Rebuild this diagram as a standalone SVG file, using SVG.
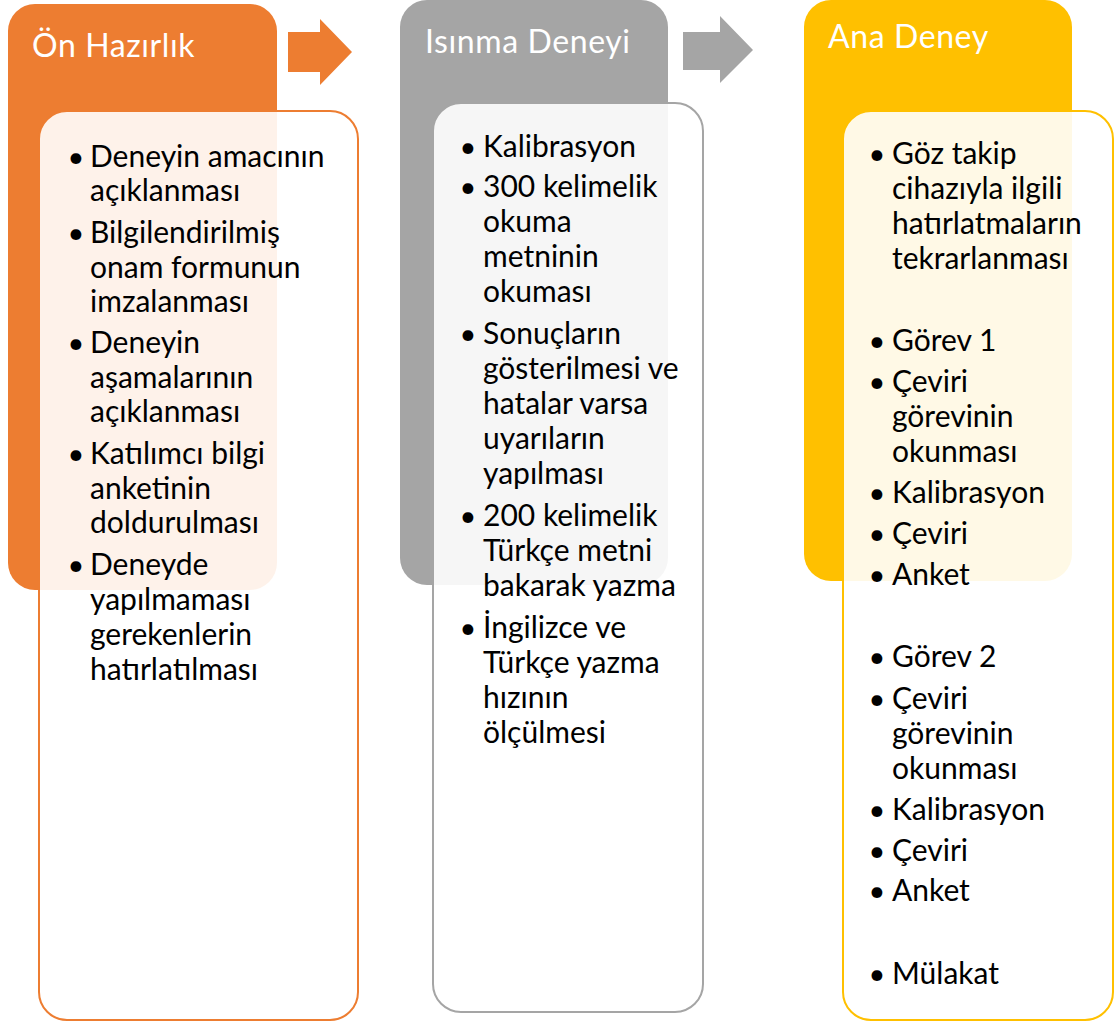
<svg xmlns="http://www.w3.org/2000/svg" width="1115" height="1022" viewBox="0 0 1115 1022">
<style>
.h{font-family:Lato,"Open Sans","Liberation Sans",sans-serif;font-size:32px;letter-spacing:0.6px;fill:#fff}
.t{font-family:Lato,"Open Sans","Liberation Sans",sans-serif;font-size:30px;fill:#000}
.b{font-family:Lato,"Open Sans","Liberation Sans",sans-serif;font-size:29px;fill:#000;text-anchor:middle}
.in{fill:#fff;fill-opacity:.9;stroke-width:2}
</style>
<g id="connectors">
<polygon points="288,32 320,32 320,19 352,52 320,85 320,72 288,72" fill="#ED7D31"/>
<polygon points="683,32 720,32 720,16 753,50 720,83 720,70 683,70" fill="#A5A5A5"/>
</g>
<g id="on-hazirlik">
<rect x="8" y="4" width="269" height="586" rx="27" fill="#ED7D31"/>
<text class="h" x="32" y="57">Ön Hazırlık</text>
<rect class="in" x="39" y="111" width="319" height="909" rx="28" stroke="#ED7D31"/>
<text class="b" x="76" y="167">•</text>
<text class="t" x="90" y="167">Deneyin amacının</text>
<text class="t" x="90" y="201">açıklanması</text>
<text class="b" x="76" y="243">•</text>
<text class="t" x="90" y="243">Bilgilendirilmiş</text>
<text class="t" x="90" y="278">onam formunun</text>
<text class="t" x="90" y="312">imzalanması</text>
<text class="b" x="76" y="353">•</text>
<text class="t" x="90" y="353">Deneyin</text>
<text class="t" x="90" y="388">aşamalarının</text>
<text class="t" x="90" y="422">açıklanması</text>
<text class="b" x="76" y="464">•</text>
<text class="t" x="90" y="464">Katılımcı bilgi</text>
<text class="t" x="90" y="499">anketinin</text>
<text class="t" x="90" y="533">doldurulması</text>
<text class="b" x="76" y="575">•</text>
<text class="t" x="90" y="575">Deneyde</text>
<text class="t" x="90" y="610">yapılmaması</text>
<text class="t" x="90" y="645">gerekenlerin</text>
<text class="t" x="90" y="680">hatırlatılması</text>
</g>
<g id="isinma-deneyi">
<rect x="400" y="0" width="268" height="585" rx="27" fill="#A5A5A5"/>
<text class="h" x="425" y="53">Isınma Deneyi</text>
<rect class="in" x="433" y="103" width="270" height="909" rx="28" stroke="#A5A5A5"/>
<text class="b" x="468" y="157">•</text>
<text class="t" x="483" y="157">Kalibrasyon</text>
<text class="b" x="468" y="197">•</text>
<text class="t" x="483" y="197">300 kelimelik</text>
<text class="t" x="483" y="232">okuma</text>
<text class="t" x="483" y="267">metninin</text>
<text class="t" x="483" y="302">okuması</text>
<text class="b" x="468" y="344">•</text>
<text class="t" x="483" y="344">Sonuçların</text>
<text class="t" x="483" y="379">gösterilmesi ve</text>
<text class="t" x="483" y="414">hatalar varsa</text>
<text class="t" x="483" y="449">uyarıların</text>
<text class="t" x="483" y="484">yapılması</text>
<text class="b" x="468" y="526">•</text>
<text class="t" x="483" y="526">200 kelimelik</text>
<text class="t" x="483" y="561">Türkçe metni</text>
<text class="t" x="483" y="596">bakarak yazma</text>
<text class="b" x="468" y="638">•</text>
<text class="t" x="483" y="638">İngilizce ve</text>
<text class="t" x="483" y="673">Türkçe yazma</text>
<text class="t" x="483" y="708">hızının</text>
<text class="t" x="483" y="743">ölçülmesi</text>
</g>
<g id="ana-deney">
<rect x="804" y="0" width="268" height="581" rx="27" fill="#FFC000"/>
<text class="h" x="828" y="48">Ana Deney</text>
<rect class="in" x="843" y="111" width="270" height="909" rx="28" stroke="#FFC000"/>
<text class="b" x="877" y="164">•</text>
<text class="t" x="892" y="164">Göz takip</text>
<text class="t" x="892" y="199">cihazıyla ilgili</text>
<text class="t" x="892" y="234">hatırlatmaların</text>
<text class="t" x="892" y="269">tekrarlanması</text>
<text class="b" x="877" y="351">•</text>
<text class="t" x="892" y="351">Görev 1</text>
<text class="b" x="877" y="392">•</text>
<text class="t" x="892" y="392">Çeviri</text>
<text class="t" x="892" y="427">görevinin</text>
<text class="t" x="892" y="462">okunması</text>
<text class="b" x="877" y="503">•</text>
<text class="t" x="892" y="503">Kalibrasyon</text>
<text class="b" x="877" y="544">•</text>
<text class="t" x="892" y="544">Çeviri</text>
<text class="b" x="877" y="585">•</text>
<text class="t" x="892" y="585">Anket</text>
<text class="b" x="877" y="667">•</text>
<text class="t" x="892" y="667">Görev 2</text>
<text class="b" x="877" y="709">•</text>
<text class="t" x="892" y="709">Çeviri</text>
<text class="t" x="892" y="744">görevinin</text>
<text class="t" x="892" y="779">okunması</text>
<text class="b" x="877" y="820">•</text>
<text class="t" x="892" y="820">Kalibrasyon</text>
<text class="b" x="877" y="861">•</text>
<text class="t" x="892" y="861">Çeviri</text>
<text class="b" x="877" y="901">•</text>
<text class="t" x="892" y="901">Anket</text>
<text class="b" x="877" y="984">•</text>
<text class="t" x="892" y="984">Mülakat</text>
</g>
</svg>
